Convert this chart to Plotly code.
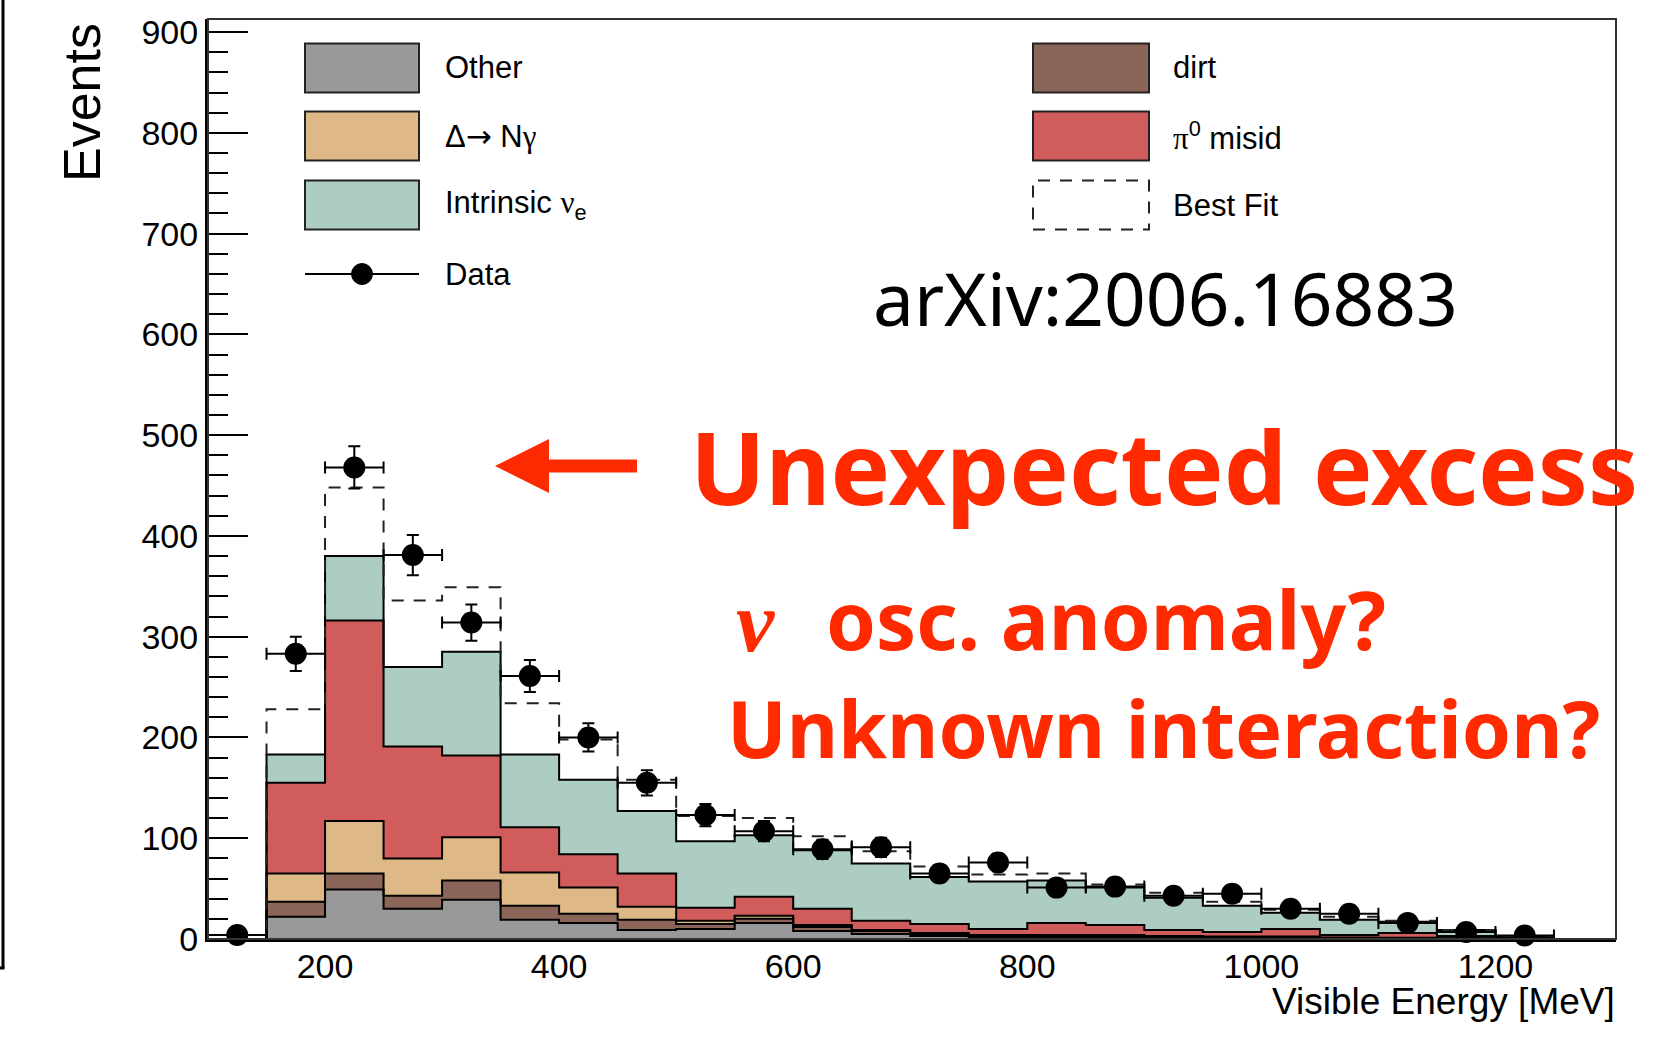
import numpy as np
import plotly.graph_objects as go

# ---------------- data ----------------
bin_edges = [100, 150, 200, 250, 300, 350, 400, 450, 500, 550, 600, 650, 700,
             750, 800, 850, 900, 950, 1000, 1050, 1100, 1150, 1200, 1250]

data_events = [4, 283, 468, 381, 314, 261, 200, 155, 123, 107, 89, 91, 65, 76,
               51, 52, 43, 45, 30, 25, 16, 7, 3.5]
data_errors = [2, 17, 21, 20, 18, 16, 14, 12.5, 11, 10, 9.5, 9.5, 8, 8.7,
               7, 7.2, 6.6, 6.7, 5.5, 5, 4, 2.6, 1.9]

other = [0, 22, 49, 30, 39, 19, 16, 9, 10, 16, 8, 5, 3, 2, 2, 2, 1.5, 1, 1,
         0.5, 0.5, 0.3, 0.2]
dirt = [0, 15, 16, 13, 19, 14, 9, 10, 5, 4, 4, 3, 2, 1.5, 1.5, 1.5, 1, 1, 1,
        0.5, 0.5, 0.3, 0.2]
delta_ngamma = [0, 28, 52, 37, 43, 33, 26, 13, 3, 3, 2, 1, 1, 0.5, 0.5, 0.5,
                0.5, 0.5, 0.5, 0.5, 0.2, 0.2, 0.1]
pi0_misid = [0, 90, 199, 111, 81, 45, 33, 33, 13, 19, 16, 9, 9, 6, 12, 10, 6,
             4.5, 7.5, 2.5, 4.8, 2.2, 0.5]
intrinsic_nue = [0, 28, 64, 79, 103, 72, 74, 62, 66, 61, 58, 57, 46.5, 47, 42,
                 37, 32, 26, 16, 15, 11, 6, 2]
best_fit = [0, 228, 448, 336, 349, 234, 198, 158, 122, 120, 102, 87, 72, 64,
            65, 54, 46, 37, 29, 22, 18, 9, 3]

x_tick_vals = [200, 400, 600, 800, 1000, 1200]
y_tick_vals = [0, 100, 200, 300, 400, 500, 600, 700, 800, 900]

components = [
    ("Other", other, "rgb(153,153,153)"),
    ("dirt", dirt, "rgb(139,101,87)"),
    ("Δ→ Nγ", delta_ngamma, "rgb(222,185,135)"),
    ("π0 misid", pi0_misid, "rgb(208,92,92)"),
    ("Intrinsic νe", intrinsic_nue, "rgb(174,205,194)"),
]

# ---------------- geometry ----------------
W, H = 1665, 1039
PL, PR, PT, PB = 208, 1616, 19, 939


def X(px):
    return (px - PL) / (PR - PL)


def Y(py):
    return (PB - py) / (PB - PT)


edges = np.array(bin_edges, dtype=float)
centers = 0.5 * (edges[:-1] + edges[1:])
half_w = 0.5 * (edges[1:] - edges[:-1])

fig = go.Figure()

# stacked fills
cum = np.zeros(len(centers))
levels = []
for i, (name, vals, col) in enumerate(components):
    cum = cum + np.array(vals, dtype=float)
    levels.append(cum.copy())
    fig.add_trace(go.Scatter(
        x=edges, y=np.append(cum, cum[-1]), mode="lines",
        line=dict(width=0, shape="hv"), fill="tozeroy" if i == 0 else "tonexty",
        fillcolor=col, hoverinfo="skip", showlegend=False))


def step_xy(vals):
    xs = np.concatenate([[edges[0]], edges[:-1], [edges[-1]]])
    ys = np.concatenate([[0], vals, [0]])
    return xs, ys


# outlines
for lv in levels:
    xs, ys = step_xy(lv)
    fig.add_trace(go.Scatter(x=xs, y=ys, mode="lines",
                             line=dict(color="black", width=2, shape="hv"),
                             hoverinfo="skip", showlegend=False))

# best fit dashed
xs, ys = step_xy(np.array(best_fit, dtype=float))
fig.add_trace(go.Scatter(x=xs, y=ys, mode="lines",
                         line=dict(color="#222", width=2, shape="hv", dash="12px,10px"),
                         hoverinfo="skip", showlegend=False))

# data
fig.add_trace(go.Scatter(
    x=centers, y=data_events, mode="markers",
    marker=dict(color="black", size=22),
    error_y=dict(type="data", array=data_errors, color="black", thickness=2, width=6),
    error_x=dict(type="data", array=half_w, color="black", thickness=2, width=6),
    cliponaxis=False, showlegend=False, hoverinfo="skip"))

BASE_FONT = "Liberation Sans, Arial, Helvetica, sans-serif"

fig.update_layout(
    width=W, height=H, autosize=False,
    margin=dict(l=PL, r=W - PR, t=PT, b=H - PB, pad=0),
    paper_bgcolor="white", plot_bgcolor="white",
    font=dict(family=BASE_FONT, color="black", size=34),
    showlegend=False,
)
fig.update_xaxes(range=[100, 1303], showgrid=False, zeroline=False,
                 showline=True, linecolor="black", linewidth=3,
                 tickvals=x_tick_vals, ticks="", ticklabelstandoff=-5,
                 tickfont=dict(size=34), layer="above traces")
fig.update_yaxes(range=[0, 913], showgrid=False, zeroline=False,
                 showline=True, linecolor="black", linewidth=3,
                 tickvals=y_tick_vals, ticks="inside", ticklen=40, tickwidth=2,
                 tickcolor="black", tickfont=dict(size=34), ticklabelstandoff=0,
                 minor=dict(ticks="inside", ticklen=20, tickwidth=2, dtick=20,
                            tickcolor="black", showgrid=False),
                 layer="above traces")

shapes = []
annotations = []
# frame (top/right)
shapes.append(dict(type="rect", xref="paper", yref="paper", x0=0, x1=1, y0=0, y1=1,
                   line=dict(color="#333", width=2), layer="above"))
# left slide border remnant
shapes.append(dict(type="line", xref="paper", yref="paper", x0=X(3), x1=X(3),
                   y0=Y(-5), y1=Y(968), line=dict(color="black", width=3)))
shapes.append(dict(type="line", xref="paper", yref="paper", x0=X(0), x1=X(4.5),
                   y0=Y(968), y1=Y(968), line=dict(color="black", width=3)))

# legend
LEG_FONT = 31
SERIF = "font-family:'Liberation Serif'"
box_h = 49
left_rows = [(43.5, "Other", components[0][2], False),
             (111.5, f"Δ<span style=\"font-family:'DejaVu Sans'\">→</span> N<span style=\"{SERIF}\">γ</span>",
              components[2][2], False),
             (180.5, f"Intrinsic <span style=\"{SERIF}\">ν</span><sub>e</sub>", components[4][2], False)]
right_rows = [(43.5, "dirt", components[1][2], False),
              (111.5, f"<span style=\"{SERIF}\">π</span><sup>0</sup> misid", components[3][2], False),
              (180.5, "Best Fit", None, True)]
for (bx0, bx1, tx), rows in (((305, 419, 443), left_rows), ((1033, 1149, 1171), right_rows)):
    for top, label, col, dashed in rows:
        if dashed:
            shapes.append(dict(type="rect", xref="paper", yref="paper",
                               x0=X(bx0), x1=X(bx1), y0=Y(top + box_h), y1=Y(top),
                               line=dict(color="#222", width=2, dash="12px,10px"),
                               fillcolor="rgba(0,0,0,0)", layer="above"))
        else:
            shapes.append(dict(type="rect", xref="paper", yref="paper",
                               x0=X(bx0), x1=X(bx1), y0=Y(top + box_h), y1=Y(top),
                               line=dict(color="#222", width=2),
                               fillcolor=col, layer="above"))
        annotations.append(dict(xref="paper", yref="paper", x=X(tx), y=Y(top + box_h / 2),
                                xanchor="left", yanchor="middle", showarrow=False,
                                text=label, font=dict(size=LEG_FONT, family=BASE_FONT)))
# Data legend entry
shapes.append(dict(type="line", xref="paper", yref="paper", x0=X(305), x1=X(419),
                   y0=Y(274), y1=Y(274), line=dict(color="black", width=2), layer="above"))
shapes.append(dict(type="circle", xref="paper", yref="paper", x0=X(351.5), x1=X(372.5),
                   y0=Y(284.5), y1=Y(263.5), line=dict(color="black", width=1),
                   fillcolor="black", layer="above"))
annotations.append(dict(xref="paper", yref="paper", x=X(443), y=Y(274), xanchor="left",
                        yanchor="middle", showarrow=False, text="Data",
                        font=dict(size=LEG_FONT, family=BASE_FONT)))

# axis titles
annotations.append(dict(xref="paper", yref="paper", x=X(82), y=Y(103), xanchor="center",
                        yanchor="middle", textangle=-90, showarrow=False, text="Events",
                        font=dict(size=52, family=BASE_FONT)))
annotations.append(dict(xref="paper", yref="paper", x=X(1617), y=Y(1001), xanchor="right",
                        yanchor="middle", showarrow=False, text="Visible Energy [MeV]",
                        font=dict(size=37, family=BASE_FONT)))

# slide annotations
SANS = "Noto Sans, Open Sans, sans-serif"
RED = "#ff2a00"
annotations.append(dict(xref="paper", yref="paper", x=X(871), y=Y(297), xanchor="left",
                        yanchor="middle", showarrow=False, text="arXiv:2006.16883",
                        font=dict(size=73, family=SANS, color="black")))
annotations.append(dict(xref="paper", yref="paper", x=X(688), y=Y(466), xanchor="left",
                        yanchor="middle", showarrow=False, text="<b>Unexpected excess</b>",
                        font=dict(size=100, family=SANS, color=RED)))
annotations.append(dict(xref="paper", yref="paper", x=X(734), y=Y(622), xanchor="left",
                        yanchor="middle", showarrow=False, text="<b><i>ν</i></b>",
                        font=dict(size=86, family="Liberation Serif", color=RED),
                        ))
annotations.append(dict(xref="paper", yref="paper", x=X(824), y=Y(618), xanchor="left",
                        yanchor="middle", showarrow=False, text="<b>osc. anomaly?</b>",
                        font=dict(size=80, family=SANS, color=RED)))
annotations.append(dict(xref="paper", yref="paper", x=X(725), y=Y(728), xanchor="left",
                        yanchor="middle", showarrow=False, text="<b>Unknown interaction?</b>",
                        font=dict(size=79, family=SANS, color=RED)))

# red arrow
pts = [(495, 466), (549, 439), (549, 459.5), (637, 459.5), (637, 472.5), (549, 472.5), (549, 493)]
path = "M " + " L ".join(f"{X(a):.5f},{Y(b):.5f}" for a, b in pts) + " Z"
shapes.append(dict(type="path", xref="paper", yref="paper", path=path,
                   fillcolor=RED, line=dict(width=0), layer="above"))

fig.update_layout(shapes=shapes, annotations=annotations)

fig.write_html("out.html", include_plotlyjs=True, full_html=True,
               config={"displayModeBar": False},
               post_script="document.body.style.margin='0';")
